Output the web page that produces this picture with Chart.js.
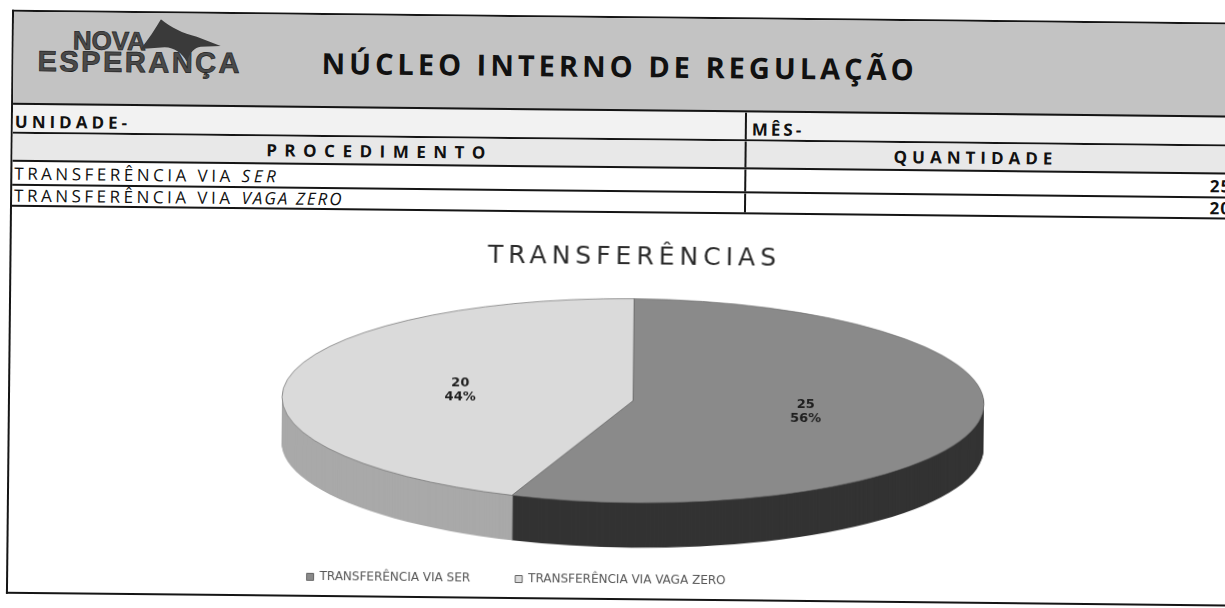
<!DOCTYPE html>
<html lang="pt-BR">
<head>
  <meta charset="UTF-8">
  <title>Núcleo Interno de Regulação - Transferências</title>
  <script src="https://cdn.jsdelivr.net/npm/chart.js"></script>
  <style>
    html, body { margin: 0; padding: 0; background: #fff; overflow: hidden; }
    body { width: 1225px; height: 608px; position: relative; font-family: 'Open Sans', sans-serif; color: #111; }

    /* folha escaneada levemente torta */
    .folha {
      position: absolute;
      left: 9px;
      top: 16px;
      width: 1226px;
      height: 580px;
      border: 2px solid #151515;
      border-right: none;
      transform: rotate(0.6deg);
      transform-origin: 603px 288px;
    }

    .cabecalho {
      position: relative;
      height: 91px;
      background: #c3c3c3;
      border-bottom: 2px solid #151515;
    }
    .logo-nova, .logo-esperanca {
      position: absolute;
      font-family: 'Liberation Sans', sans-serif;
      font-weight: bold;
      line-height: 1;
      color: #4a4a4a;
      -webkit-text-stroke: 0.7px #1e1e1e;
      white-space: nowrap;
    }
    .logo-nova { left: 59px; top: 15px; font-size: 26px; }
    .logo-esperanca { left: 24px; top: 35px; font-size: 29px; letter-spacing: 2.5px; }
    .logo-asa { position: absolute; left: 127px; top: 6px; }
    .titulo {
      position: absolute;
      left: 308px;
      top: 33px;
      font-size: 29px;
      font-weight: bold;
      line-height: 1;
      letter-spacing: 4px;
      white-space: nowrap;
    }

    .linha {
      display: flex;
      border-bottom: 2px solid #151515;
      font-size: 17px;
      letter-spacing: 3.5px;
      white-space: nowrap;
    }
    .linha > div { display: flex; align-items: center; }
    .esq { width: 734px; border-right: 2px solid #151515; padding-left: 2px; box-sizing: border-box; }
    .dir { flex: 1; padding-right: 7px; }
    .negrito { font-weight: bold; letter-spacing: 5px; }
    .centro { justify-content: center; }
    .direita { justify-content: flex-end; letter-spacing: 1px; }
    .unidade { height: 27px; background: #f2f2f2; }
    .unidade .esq { padding-top: 5px; letter-spacing: 4px; }
    .unidade .dir { padding-left: 5px; padding-top: 5px; letter-spacing: 3px; }
    .procedimento { height: 26px; background: #e8e8e8; }
    .procedimento .esq { letter-spacing: 7.5px; }
    .procedimento .dir { padding-right: 34px; }
    .item1 { height: 22px; }
    .item2 { height: 19px; }
    .item2 i { letter-spacing: 2px; }

    .grafico { position: relative; width: 1226px; height: 385px; }
  </style>
</head>
<body>

  <div class="folha">
    <div class="cabecalho">
      <div class="logo-nova">NOVA</div>
      <div class="logo-esperanca">ESPERANÇA</div>
      <svg class="logo-asa" width="82" height="44" viewBox="0 0 82 44">
        <path d="M0 30 C 8 20, 14 10, 20 0 C 30 8, 42 14, 56 17 L 80 26 L 60 27 C 54 28, 50 32, 46 42 C 42 34, 34 28, 24 28 Z" fill="#3a3a3a"/>
      </svg>
      <div class="titulo">NÚCLEO INTERNO DE REGULAÇÃO</div>
    </div>

    <div class="linha unidade">
      <div class="esq negrito">UNIDADE-</div>
      <div class="dir negrito">MÊS-</div>
    </div>
    <div class="linha procedimento">
      <div class="esq negrito centro">PROCEDIMENTO</div>
      <div class="dir negrito centro">QUANTIDADE</div>
    </div>
    <div id="linhas"></div>

    <div class="grafico">
      <canvas id="graficoTransferencias"></canvas>
    </div>
  </div>

  <script>
    // Dados do mês
    const prefixo = 'TRANSFERÊNCIA VIA ';
    const vias = ['SER', 'VAGA ZERO'];
    const categorias = vias.map(v => prefixo + v);
    const quantidades = [25, 20];

    const coresTopo = ['#8a8a8a', '#dadada'];
    const coresLateral = ['#333333', '#a9a9a9'];

    // Linhas da tabela
    const linhas = document.getElementById('linhas');
    vias.forEach((via, i) => {
      const linha = document.createElement('div');
      linha.className = 'linha item' + (i + 1);
      linha.innerHTML = '<div class="esq"><span>' + prefixo + '<i>' + via + '</i></span></div>' +
        '<div class="dir negrito direita">' + quantidades[i] + '</div>';
      linhas.appendChild(linha);
    });

    // Pizza "3D": achata o disco e desenha a lateral por baixo
    const ACHATAMENTO = 102 / 351;
    const PROFUNDIDADE = 45;

    function achatar(ctx, cx, cy) {
      ctx.translate(cx, cy);
      ctx.scale(1, ACHATAMENTO);
      ctx.translate(-cx, -cy);
    }

    const pizza3d = {
      id: 'pizza3d',
      beforeDatasetsDraw(chart) {
        const ctx = chart.ctx;
        const arcos = chart.getDatasetMeta(0).data;
        const cx = arcos[0].x, cy = arcos[0].y;
        for (let d = PROFUNDIDADE; d > 0; d--) {
          arcos.forEach((arco, i) => {
            ctx.save();
            ctx.translate(0, d);
            achatar(ctx, cx, cy);
            ctx.beginPath();
            ctx.moveTo(cx, cy);
            ctx.arc(cx, cy, arco.outerRadius, arco.startAngle, arco.endAngle);
            ctx.closePath();
            ctx.fillStyle = coresLateral[i];
            ctx.fill();
            ctx.restore();
          });
        }
        ctx.save();
        achatar(ctx, cx, cy);
      },
      afterDatasetsDraw(chart) {
        const ctx = chart.ctx;
        ctx.restore();

        // rótulos: valor e porcentagem
        const arcos = chart.getDatasetMeta(0).data;
        const total = quantidades.reduce((a, b) => a + b, 0);
        const cy = arcos[0].y;
        ctx.save();
        ctx.font = 'bold 13px "DejaVu Sans"';
        ctx.fillStyle = '#1e1e1e';
        ctx.textAlign = 'center';
        ctx.textBaseline = 'middle';
        arcos.forEach((arco, i) => {
          const p = arco.tooltipPosition();
          const y = cy + (p.y - cy) * ACHATAMENTO;
          ctx.fillText(String(quantidades[i]), p.x, y - 7);
          ctx.fillText(Math.round(quantidades[i] / total * 100) + '%', p.x, y + 7);
        });
        ctx.restore();
      }
    };

    // título com letras espaçadas
    const tituloEspacado = {
      id: 'tituloEspacado',
      afterInit(chart) {
        const bloco = chart.titleBlock;
        const desenhar = bloco.draw.bind(bloco);
        bloco.draw = (area) => {
          chart.ctx.save();
          chart.ctx.letterSpacing = '5px';
          desenhar(area);
          chart.ctx.restore();
        };
      }
    };

    // legenda fica um pouco à esquerda do centro
    const legendaDeslocada = {
      id: 'legendaDeslocada',
      afterLayout(chart) {
        chart.legend.left -= 115;
        chart.legend.right -= 115;
      }
    };

    Chart.defaults.font.family = '"DejaVu Sans", sans-serif';

    const ctx = document.getElementById('graficoTransferencias').getContext('2d');
    new Chart(ctx, {
      type: 'pie',
      data: {
        labels: categorias,
        datasets: [{
          data: quantidades,
          backgroundColor: coresTopo,
          borderColor: '#666',
          borderWidth: 1,
          radius: 351,
          clip: false
        }]
      },
      options: {
        responsive: true,
        maintainAspectRatio: false,
        animation: false,
        events: [],
        layout: { padding: { left: 20, bottom: 2 } },
        plugins: {
          title: {
            display: true,
            text: 'TRANSFERÊNCIAS',
            color: '#2b2b2b',
            font: { size: 25, weight: 'normal' },
            padding: { top: 29, bottom: 0 }
          },
          legend: {
            position: 'bottom',
            labels: {
              boxWidth: 7,
              boxHeight: 7,
              padding: 45,
              color: '#555',
              font: { size: 12 }
            }
          },
          tooltip: { enabled: false }
        }
      },
      plugins: [pizza3d, tituloEspacado, legendaDeslocada]
    });
  </script>

</body>
</html>
